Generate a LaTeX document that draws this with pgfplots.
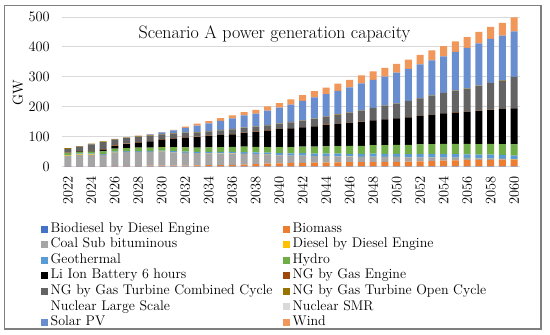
\documentclass[border=0pt]{standalone}
\usepackage{pgfplots}
\usepackage{pgfplotstable}
\pgfplotsset{compat=1.18}
\definecolor{cBd}{HTML}{4472C4}
\definecolor{cBm}{HTML}{ED7D31}
\definecolor{cCoal}{HTML}{A5A5A5}
\definecolor{cDsl}{HTML}{FFC000}
\definecolor{cGeo}{HTML}{5B9BD5}
\definecolor{cHyd}{HTML}{70AD47}
\definecolor{cLi}{HTML}{000000}
\definecolor{cGE}{HTML}{9E480E}
\definecolor{cCC}{HTML}{636363}
\definecolor{cOC}{HTML}{997300}
\definecolor{cNL}{HTML}{FFFFFF}
\definecolor{cSMR}{HTML}{D9D9D9}
\definecolor{cSol}{HTML}{698ED0}
\definecolor{cWind}{HTML}{F1975A}
\definecolor{cGrid}{HTML}{D9D9D9}
\definecolor{cBorder}{HTML}{7F7F7F}
\pgfplotstableread{
year bd bm coal dsl geo hyd li ge cc oc nl smr sol wind
2022 0.3 1 34 1.5 2 6 0 1.5 13 2 0 0 0 0
2023 0.3 1 38 1.5 2 6 2 1.5 14 2 0 0 0 0
2024 0.3 1 38 1.5 2 7 3 1.5 20 2 0 0 0 0
2025 0.3 1 37 1 2 9 6 1.5 24 2 0 0 0.3 0
2026 0.3 1.5 44 1 3 10 9 1.5 20 1.5 0 0 0.5 0
2027 0.3 2 46 0.5 3 10 13 1.5 19 1.5 0 0 1 0.3
2028 0.3 2 46 0.5 3 11 17 1.5 18 1.5 0 0 2 0.5
2029 0.3 2.5 46 0.3 3 11 21 1.5 17 1.5 0 0 3 1
2030 0.3 3 46 0.3 3.5 12 25 1.5 16 1.5 0 0 5 1
2031 0.3 3 44 0.3 4 13 29 1.5 15 1.5 0 0 9 2
2032 0.3 3 42 0.3 4 14 33 1.5 14 1.5 0 0 16 4
2033 0.3 3.5 41 0.3 4 14 35 1.5 14 1.5 0 0 22 6
2034 0.3 4 40 0.3 4.5 15 38 1.5 14 1.5 0 0 25 8
2035 0.3 4 39 0.3 5 16 40 1.5 15 1.5 0 0 30 9
2036 0.3 5 38 0.3 5 17 42 1.5 15 1.5 0 0 35 10
2037 0.3 6 36 0.3 5.5 18 46 1.5 15 1.5 0 0 41 11
2038 0.3 8 33 0.3 6 18 50 1.5 16 1.5 0 0 42 13
2039 0.3 9 30 0.3 6.5 19 55 1.5 16 1.5 0 0 48 14
2040 0.3 10 27 0.3 7 20 60 1.5 17 1.5 0 0 52 15
2041 0.3 11 25 0.3 7.5 21 62 1.5 19 1.5 0 0 58 17
2042 0.3 12 24 0.3 8 22 64 1.5 21 1.5 0 0 65 19
2043 0.3 12.5 22 0.3 8 23 68 1.5 23 1.5 0 0 71 21
2044 0.3 13 21 0.3 8.5 24 72 1.5 25 1.5 0 0 75 22
2045 0.3 13.5 20 0.3 9 25 75 1.5 28 1.5 0 0 79 24
2046 0.3 14 19 0.3 9 26 78 1 32 1 0 0 84 25
2047 0.3 14 18 0.3 9.5 27 80 1 36 1 0 0 91 27
2048 0.3 14.5 18 0.3 10 28 83 1 40 1 0 0 94 28
2049 0.3 15 17 0.3 10 29 86 1 44 1 0 0 97 29
2050 0.3 15.5 16 0.3 10.5 30 88 1 48 1 0 0 103 30
2051 0.3 16 14 0.3 11 31 92 1 53 1 0 0 107 31
2052 0.3 17 13 0.3 11 32 95 1 58 1 0 0 113 32
2053 0.3 18 12 0.3 11.5 33 98 1 63 1 0 0 117 33
2054 0.3 19 10 0.3 12 34 102 1 67 1 0 0 122 34
2055 0.3 20 9 0.3 12 34 105 1 71 1 0 0 130 35
2056 0.3 21 7 0.3 12 35 108 1 76 1 0 0 135 36
2057 0.3 22 5 0.3 12.5 35 111 1 82 1 0 0 142 38
2058 0.3 22 4 0.3 13 36 114 1 88 1 0 0 147 40
2059 0.3 23 2 0.3 13 36 117 1 95 1 0 0 149 43
2060 0.3 23 0 0.3 13 37 121 1 103 1 0 0 152 47
}\datatable
\newcommand{\lc}[1]{\makebox[232.3pt][l]{#1}}
\begin{document}
\begin{tikzpicture}[x=1pt,y=1pt]
\useasboundingbox (0,0) rectangle (550,335);
\fill[white] (0,0) rectangle (550,335);
\draw[line width=1.2pt, color=cBorder] (4.5,6) rectangle (541,329.5);
\begin{axis}[
  at={(62pt,168.5pt)}, anchor=south west,
  scale only axis, width=458pt, height=149.5pt,
  ybar stacked, bar width=7pt,
  xmin=2021.5, xmax=2060.5, ymin=0, ymax=500,
  xtick={2022,2024,...,2060}, ytick={0,100,...,500},
  major tick length=0pt, tick style={draw=none},
  axis line style={draw=none},
  ymajorgrids, grid style={color=cGrid, line width=1pt},
  xticklabel style={/pgf/number format/1000 sep={}, rotate=90, anchor=east,
    inner xsep=10pt, inner ysep=0pt, font=\fontsize{14}{16}\selectfont},
  yticklabel style={anchor=east, inner sep=0pt, xshift=-12pt,
    font=\fontsize{14}{16}\selectfont},
  ylabel={GW},
  ylabel style={at={(axis description cs:-0.096,0.495)}, anchor=center,
    font=\fontsize{14.5}{17}\selectfont},
  title={Scenario A power generation capacity},
  every axis title/.style={at={(axis description cs:0.464,0.853)}, anchor=base,
    font=\fontsize{18}{21}\selectfont},
  legend columns=2,
  legend cell align=left,
  legend image code/.code={\fill[#1] (0pt,-3.5pt) rectangle (7pt,3.5pt); \path (9.7pt,0pt);},
  legend style={
    at={(axis description cs:-0.0459,-0.3732)}, anchor=north west,
    draw=none, fill=none, inner sep=0pt, outer sep=0pt,
    column sep=0pt, row sep=2.06pt,
    font=\fontsize{14}{16}\selectfont,
    nodes={inner sep=0pt, text height=10pt, text depth=3.5pt},
  },
]
\addplot[fill=cBd, draw=none] table[x=year,y=bd]{\datatable};
\addlegendentry{\lc{Biodiesel by Diesel Engine}}
\addplot[fill=cBm, draw=none] table[x=year,y=bm]{\datatable};
\addlegendentry{Biomass}
\addplot[fill=cCoal, draw=none] table[x=year,y=coal]{\datatable};
\addlegendentry{\lc{Coal Sub bituminous}}
\addplot[fill=cDsl, draw=none] table[x=year,y=dsl]{\datatable};
\addlegendentry{Diesel by Diesel Engine}
\addplot[fill=cGeo, draw=none] table[x=year,y=geo]{\datatable};
\addlegendentry{\lc{Geothermal}}
\addplot[fill=cHyd, draw=none] table[x=year,y=hyd]{\datatable};
\addlegendentry{Hydro}
\addplot[fill=cLi, draw=none] table[x=year,y=li]{\datatable};
\addlegendentry{\lc{Li Ion Battery 6 hours}}
\addplot[fill=cGE, draw=none] table[x=year,y=ge]{\datatable};
\addlegendentry{NG by Gas Engine}
\addplot[fill=cCC, draw=none] table[x=year,y=cc]{\datatable};
\addlegendentry{\lc{NG by Gas Turbine Combined Cycle}}
\addplot[fill=cOC, draw=none] table[x=year,y=oc]{\datatable};
\addlegendentry{NG by Gas Turbine Open Cycle}
\addplot[fill=cNL, draw=none] table[x=year,y=nl]{\datatable};
\addlegendentry{\lc{Nuclear Large Scale}}
\addplot[fill=cSMR, draw=none] table[x=year,y=smr]{\datatable};
\addlegendentry{Nuclear SMR}
\addplot[fill=cSol, draw=none] table[x=year,y=sol]{\datatable};
\addlegendentry{\lc{Solar PV}}
\addplot[fill=cWind, draw=none] table[x=year,y=wind]{\datatable};
\addlegendentry{Wind}
\end{axis}
\end{tikzpicture}
\end{document}
